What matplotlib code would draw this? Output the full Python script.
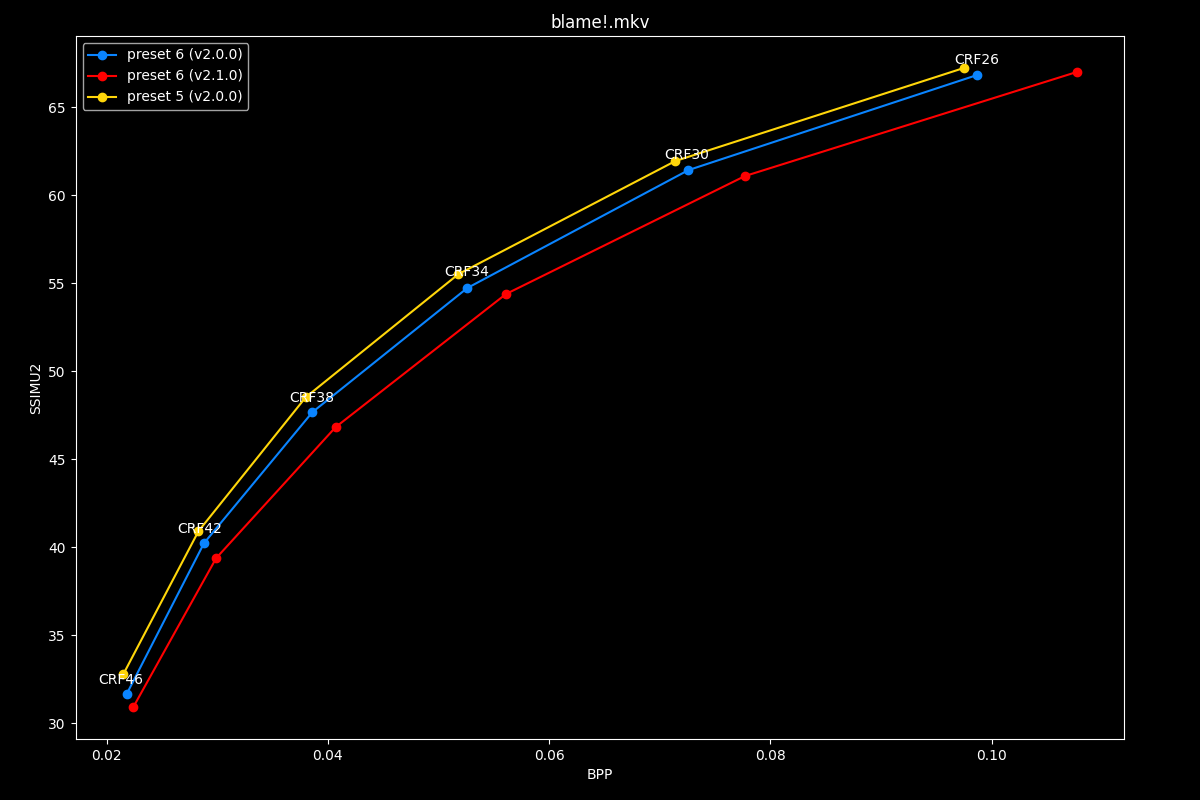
import matplotlib
matplotlib.use("Agg")
import matplotlib.pyplot as plt

# BPP / SSIMU2 per CRF
crf_labels = ["CRF46", "CRF42", "CRF38", "CRF34", "CRF30", "CRF26"]

p6_v200_bpp = [0.0218, 0.0288, 0.0386, 0.0526, 0.0726, 0.0987]
p6_v200_ssim = [31.65, 40.23, 47.67, 54.72, 61.42, 66.82]

p6_v210_bpp = [0.0224, 0.0299, 0.0407, 0.0561, 0.0777, 0.1077]
p6_v210_ssim = [30.91, 39.38, 46.82, 54.38, 61.08, 66.99]

p5_v200_bpp = [0.0215, 0.0283, 0.0380, 0.0518, 0.0714, 0.0975]
p5_v200_ssim = [32.78, 40.91, 48.52, 55.51, 61.93, 67.22]

# label nudges (pixels, relative to the preset 5 points)
label_offsets = [(-2.5, -10), (1.5, -2), (5.5, -4.5), (8, -2), (11.5, 2.5), (12.5, 3.5)]

plt.style.use("dark_background")
fig, ax = plt.subplots(figsize=(12, 8), dpi=100)
fig.subplots_adjust(left=0.063, right=0.937, top=0.955, bottom=0.076)

ax.plot(p6_v200_bpp, p6_v200_ssim, marker="o", color="#0a84ff", label="preset 6 (v2.0.0)")
ax.plot(p6_v210_bpp, p6_v210_ssim, marker="o", color="#ff0000", label="preset 6 (v2.1.0)")
ax.plot(p5_v200_bpp, p5_v200_ssim, marker="o", color="#ffd60a", label="preset 5 (v2.0.0)")

for lbl, x, y, off in zip(crf_labels, p5_v200_bpp, p5_v200_ssim, label_offsets):
    ax.annotate(lbl, (x, y), textcoords="offset pixels", xytext=off,
                ha="center", va="baseline", color="white")

ax.set_title("blame!.mkv")
ax.set_xlabel("BPP")
ax.set_ylabel("SSIMU2")
ax.legend(loc="upper left")

plt.savefig("out.png")
